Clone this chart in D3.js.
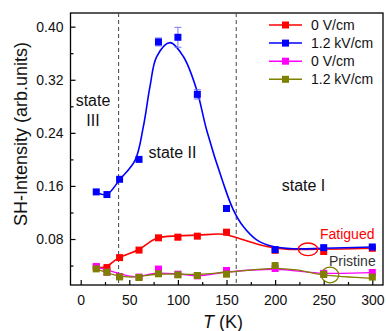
<!DOCTYPE html>
<html><head><meta charset="utf-8">
<script src="https://cdn.jsdelivr.net/npm/d3@7"></script>
<style>
body{margin:0;background:#fff;}
text{font-family:"Liberation Sans",Arial,sans-serif;}
</style></head>
<body><svg id="c" width="386" height="331"></svg>
<script>
// ---- data ----
const temps = [16, 27, 40, 60, 80, 100, 120, 150, 200, 250, 300];
const fatigued0 = [0.0377, 0.037, 0.052, 0.0633, 0.0818, 0.0828, 0.0843, 0.0903, 0.063, 0.0612, 0.066];
const fatigued0Err = [0.002, 0.002, 0.002, 0.002, 0.002, 0.004, 0.002, 0.002, 0.002, 0.002, 0.002];
const fatigued12 = [0.151, 0.147, 0.170, 0.200, 0.377, 0.384, 0.298, 0.126, 0.064, 0.067, 0.068];
const fatigued12Err = [0.002, 0.002, 0.002, 0.002, 0.006, 0.015, 0.007, 0.002, 0.002, 0.002, 0.002];
const pristine0 = [0.0385, 0.030, 0.0235, 0.0226, 0.0347, 0.027, 0.0245, 0.0326, 0.0356, 0.0283, 0.0296];
const pristine12 = [0.035, 0.030, 0.0229, 0.022, 0.0276, 0.026, 0.025, 0.027, 0.040, 0.0265, 0.0226];

// fitted guide curves
const fitFat0T = [15.4, 25.7, 38.7, 59.3, 78.2, 100.4, 121, 141.6, 152, 167.3, 191.4, 212, 243, 300];
const fitFat0V = [0.0377, 0.038, 0.0512, 0.0637, 0.0813, 0.0848, 0.0858, 0.0875, 0.0858, 0.0788, 0.0687, 0.0647, 0.0645, 0.066];
const fitFat12T = [15.4, 26.7, 40.4, 56, 64.4, 71.3, 78.2, 91.9, 105.6, 119.3, 129.6, 146.7, 157, 167.3, 181, 198, 218.7, 250, 300];
const fitFat12V = [0.151, 0.147, 0.170, 0.199, 0.249, 0.310, 0.355, 0.376, 0.355, 0.305, 0.244, 0.164, 0.124, 0.0988, 0.0788, 0.0687, 0.0653, 0.066, 0.068];
const fitPri0T = [15.4, 38.7, 55.9, 78.2, 100.4, 121, 148.5, 199.9, 249.6, 300];
const fitPri0V = [0.0383, 0.0284, 0.0233, 0.0284, 0.0273, 0.0248, 0.0299, 0.0344, 0.0284, 0.0293];
const fitPri12T = [15.4, 38.7, 55.9, 78.2, 121, 148.5, 199.9, 222, 249.6, 300];
const fitPri12V = [0.0353, 0.0243, 0.0228, 0.0269, 0.0269, 0.0299, 0.0359, 0.0334, 0.0258, 0.0208];

const xTicks = [0, 50, 100, 150, 200, 250, 300];
const xMinor = [25, 75, 125, 175, 225, 275];
const yTicks = [0.08, 0.16, 0.24, 0.32, 0.40];
const yMinor = [0.04, 0.12, 0.20, 0.28, 0.36];
const stateBounds = [39, 160];
const legendLabels = ["0 V/cm", "1.2 kV/cm", "0 V/cm", "1.2 kV/cm"];
const colors = ["#ff0000", "#0000ff", "#ff00ff", "#808000"];

// ---- chart ----
const svg = d3.select("#c");
const L = 70.5, R = 383, T = 13, B = 285;
const x = d3.scaleLinear().domain([-10.5, 311]).range([L, R]);
const y = d3.scaleLinear().domain([0.0107, 0.4206]).range([B, T]);

// axes
const gx = svg.append("g").attr("transform", `translate(0,${B})`)
  .call(d3.axisBottom(x).tickValues(xTicks).tickSize(-5).tickPadding(10).tickFormat(d3.format("d")));
const gxm = svg.append("g").attr("transform", `translate(0,${B})`)
  .call(d3.axisBottom(x).tickValues(xMinor).tickSize(-3).tickFormat(""));
const gy = svg.append("g").attr("transform", `translate(${L},0)`)
  .call(d3.axisLeft(y).tickValues(yTicks).tickSize(-5).tickPadding(7).tickFormat(d3.format(".2f")));
const gym = svg.append("g").attr("transform", `translate(${L},0)`)
  .call(d3.axisLeft(y).tickValues(yMinor).tickSize(-3).tickFormat(""));
[gx, gxm, gy, gym].forEach(g => {
  g.select(".domain").remove();
  g.selectAll("line").attr("stroke", "#000").attr("stroke-width", 1.2);
  g.selectAll("text").attr("font-size", 14).attr("fill", "#111").attr("font-family", '"Liberation Sans",Arial,sans-serif');
});

// frame
svg.append("rect").attr("x", L).attr("y", T).attr("width", R - L).attr("height", B - T)
  .attr("fill", "none").attr("stroke", "#000").attr("stroke-width", 1.3);

// dashed state boundaries
svg.selectAll(".bound").data(stateBounds).enter().append("line")
  .attr("x1", d => x(d)).attr("x2", d => x(d)).attr("y1", T).attr("y2", B)
  .attr("stroke", "#444").attr("stroke-width", 1).attr("stroke-dasharray", "4,3");

// fit curves
const line = d3.line().x(d => x(d[0])).y(d => y(d[1])).curve(d3.curveCatmullRom.alpha(0.5));
const fits = [[fitFat0T, fitFat0V], [fitFat12T, fitFat12V], [fitPri0T, fitPri0V], [fitPri12T, fitPri12V]];
const series = [fatigued0, fatigued12, pristine0, pristine12];
const errs = [fatigued0Err, fatigued12Err, null, null];

series.forEach((vals, i) => {
  const pts = fits[i][0].map((t, k) => [t, fits[i][1][k]]);
  svg.append("path").datum(pts).attr("d", line).attr("fill", "none")
    .attr("stroke", colors[i]).attr("stroke-width", i < 2 ? 1.6 : 1.3);
});
series.forEach((vals, i) => {
  const g = svg.append("g");
  if (errs[i]) {
    const ec = i === 0 ? "#ff6666" : "#7777ff";
    temps.forEach((t, k) => {
      const e = errs[i][k];
      if (e < 0.004) return;
      g.append("line").attr("x1", x(t)).attr("x2", x(t)).attr("y1", y(vals[k] - e)).attr("y2", y(vals[k] + e)).attr("stroke", ec).attr("stroke-width", 1);
      [vals[k] - e, vals[k] + e].forEach(v => g.append("line").attr("x1", x(t) - 3.5).attr("x2", x(t) + 3.5).attr("y1", y(v)).attr("y2", y(v)).attr("stroke", ec).attr("stroke-width", 1));
    });
  }
  g.selectAll("rect").data(temps.map((t, k) => [t, vals[k]])).enter().append("rect")
    .attr("x", d => x(d[0]) - 3.5).attr("y", d => y(d[1]) - 3.5).attr("width", 7).attr("height", 7)
    .attr("fill", colors[i]);
});

// legend
const lg = svg.append("g");
legendLabels.forEach((lab, i) => {
  const cy = 25 + i * 18.1;
  lg.append("line").attr("x1", 269).attr("x2", 302).attr("y1", cy).attr("y2", cy).attr("stroke", colors[i]).attr("stroke-width", 1.5);
  lg.append("rect").attr("x", 285.5 - 3.5).attr("y", cy - 3.5).attr("width", 7).attr("height", 7).attr("fill", colors[i]);
  lg.append("text").attr("x", 311).attr("y", cy + 5).attr("font-size", 14).attr("fill", "#111").text(lab);
});

// annotations
const ann = svg.append("g").attr("fill", "#111").attr("font-size", 16).attr("text-anchor", "middle");
ann.append("text").attr("x", 93).attr("y", 106).text("state");
ann.append("text").attr("x", 93).attr("y", 126).text("III");
ann.append("text").attr("x", 172.5).attr("y", 157.5).text("state II");
ann.append("text").attr("x", 303.5).attr("y", 191).text("state I");
svg.append("text").attr("x", 320).attr("y", 238.5).attr("font-size", 14).attr("fill", "#ff0000").text("Fatigued");
svg.append("text").attr("x", 329).attr("y", 266).attr("font-size", 14).attr("fill", "#333").text("Pristine");
svg.append("ellipse").attr("cx", 308).attr("cy", 249.3).attr("rx", 9.7).attr("ry", 6.3).attr("fill", "none").attr("stroke", "#ff0000").attr("stroke-width", 1.3);
svg.append("ellipse").attr("cx", 330).attr("cy", 275).attr("rx", 8.7).attr("ry", 7.8).attr("fill", "none").attr("stroke", "#808000").attr("stroke-width", 1.3);

// axis titles
svg.append("text").attr("transform", "translate(27,134) rotate(-90)").attr("text-anchor", "middle")
  .attr("font-size", 18).attr("fill", "#111").text("SH-Intensity (arb.units)");
const xl = svg.append("text").attr("x", 223).attr("y", 328).attr("text-anchor", "middle").attr("font-size", 18).attr("fill", "#111");
xl.append("tspan").attr("font-style", "italic").text("T");
xl.append("tspan").text(" (K)");
</script></body></html>
